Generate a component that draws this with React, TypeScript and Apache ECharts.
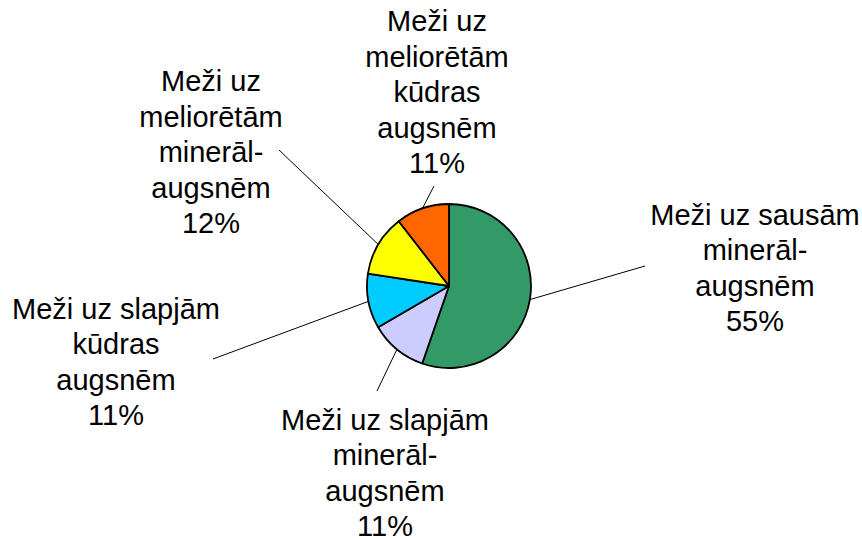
import React, { useEffect, useRef } from "react";
import * as echarts from "echarts";

const categories = [
  "Meži uz sausām\nminerāl-\naugsnēm",
  "Meži uz slapjām\nminerāl-\naugsnēm",
  "Meži uz slapjām\nkūdras\naugsnēm",
  "Meži uz\nmeliorētām\nminerāl-\naugsnēm",
  "Meži uz\nmeliorētām\nkūdras\naugsnēm",
];
const values = [55.3, 11.3, 10.8, 12.1, 10.5];
const colors = ["#339966", "#CCCCFF", "#00CCFF", "#FFFF00", "#FF6600"];

// layout of labels (positions only)
const CENTER: [number, number] = [449, 286];
const RADIUS = 82;
const labelCenters: [number, number][] = [
  [755, 268],
  [385, 473],
  [116, 362],
  [211, 152],
  [437, 92],
];
const lineEnds: [number, number][] = [
  [645, 266],
  [377, 391],
  [213, 359],
  [279, 150],
  [434, 186],
];

export default function App() {
  const ref = useRef<HTMLDivElement>(null);
  useEffect(() => {
    document.body.style.margin = "0";
    if (!ref.current) return;
    const chart = echarts.init(ref.current, null, { renderer: "svg" });
    const total = values.reduce((a, b) => a + b, 0);
    const midAngles: number[] = [];
    let acc = 0;
    values.forEach((v) => {
      midAngles.push(((acc + v / 2) / total) * Math.PI * 2);
      acc += v;
    });
    chart.setOption({
      animation: false,
      backgroundColor: "#ffffff",
      series: [
        {
          type: "pie",
          center: CENTER,
          radius: RADIUS,
          startAngle: 90,
          clockwise: true,
          avoidLabelOverlap: false,
          itemStyle: { borderColor: "#000000", borderWidth: 1.8 },
          label: {
            show: true,
            position: "outside",
            fontFamily: "'Liberation Sans', Arial, sans-serif",
            fontSize: 29,
            lineHeight: 35.5,
            color: "#000000",
            align: "center",
            formatter: (p: any) => `${p.name}\n${Math.round(p.percent)}%`,
          },
          labelLine: {
            show: true,
            smooth: false,
            lineStyle: { color: "#000000", width: 1 },
          },
          labelLayout: (params: any) => {
            const i = params.dataIndex;
            const a = midAngles[i];
            const start = [
              CENTER[0] + RADIUS * Math.sin(a),
              CENTER[1] - RADIUS * Math.cos(a),
            ];
            return {
              x: labelCenters[i][0],
              y: labelCenters[i][1],
              align: "center",
              verticalAlign: "middle",
              labelLinePoints: [start, lineEnds[i], lineEnds[i]],
            };
          },
          data: categories.map((name, i) => ({
            name,
            value: values[i],
            itemStyle: { color: colors[i] },
          })),
        },
      ],
    });
    return () => chart.dispose();
  }, []);
  return <div ref={ref} style={{ width: 862, height: 539 }} />;
}
